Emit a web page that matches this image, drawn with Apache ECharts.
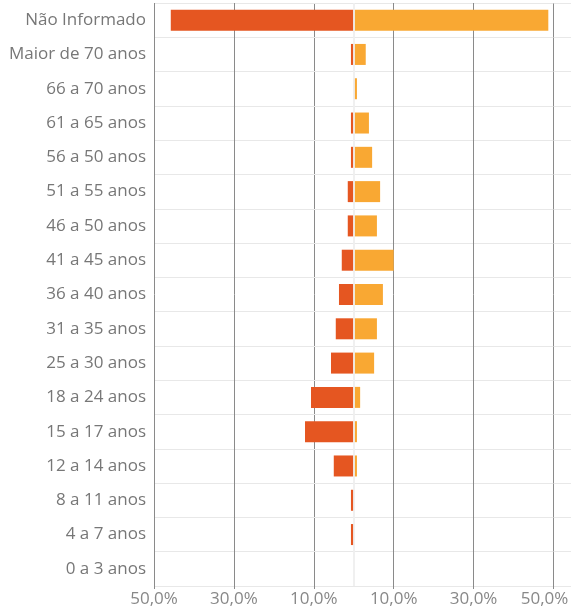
<!DOCTYPE html>
<html>
<head>
<meta charset="utf-8">
<script src="https://cdn.jsdelivr.net/npm/echarts@6/dist/echarts.min.js"></script>
<style>
    html, body { margin: 0; padding: 0; background: #fff; }
    #chart { width: 571px; height: 612px; }
</style>
</head>
<body>
<div id="chart"></div>
<script>
// faixas etárias, de cima para baixo
const categories = [
    "Não Informado", "Maior de 70 anos", "66 a 70 anos", "61 a 65 anos",
    "56 a 50 anos", "51 a 55 anos", "46 a 50 anos", "41 a 45 anos",
    "36 a 40 anos", "31 a 35 anos", "25 a 30 anos", "18 a 24 anos",
    "15 a 17 anos", "12 a 14 anos", "8 a 11 anos", "4 a 7 anos", "0 a 3 anos"
]
// lado esquerdo (negativo) e lado direito, em %
const leftValues = [-45.8, -0.7, 0, -0.7, -0.7, -1.5, -1.5, -3.0, -3.7, -4.5, -5.7, -10.7, -12.2, -5.0, -0.7, -0.7, 0]
const rightValues = [48.7, 3.0, 0.8, 3.8, 4.6, 6.6, 5.8, 10.0, 7.3, 5.8, 5.1, 1.6, 0.8, 0.8, 0, 0, 0]
const xTicks = { min: -50, max: 50, interval: 20 }

const font = "'Open Sans', sans-serif"
const chart = echarts.init(document.getElementById("chart"), null, { renderer: "canvas" })

chart.setOption({
    animation: false,
    // sem outerBounds, senão o rótulo 50,0% da direita encolhe a grade
    grid: { left: 154, right: 17.5, top: 3, bottom: 26, containLabel: false, outerBoundsMode: "none" },
    xAxis: {
        type: "value",
        min: xTicks.min,
        max: xTicks.max,
        interval: xTicks.interval,
        axisLine: { show: false },
        axisTick: { show: true, length: 3, lineStyle: { color: "#8a8a8a" } },
        splitLine: { show: true, lineStyle: { color: "#8a8a8a", width: 1 } },
        axisLabel: {
            color: "#888",
            fontFamily: font,
            fontSize: 17,
            margin: 5,
            formatter: (v) => {
                const txt = Math.abs(v).toFixed(1).replace(".", ",") + "%"
                // o último rótulo fica puxado para dentro da área
                return v === xTicks.max ? `{last|${txt}}` : txt
            },
            rich: {
                last: { color: "#888", fontFamily: font, fontSize: 17, padding: [0, 18, 0, 0] },
            },
        },
    },
    yAxis: [
        {
            type: "category",
            data: categories,
            inverse: true,
            axisLine: { show: false },
            axisTick: { show: true, length: 106, lineStyle: { color: "#e8e8e8" } },
            splitLine: { show: true, lineStyle: { color: "#e8e8e8" } },
            axisLabel: { color: "#777", fontFamily: font, fontSize: 17, margin: 8 },
        },
        {
            type: "category",
            data: categories,
            inverse: true,
            position: "right",
            axisLine: { show: false },
            axisTick: { show: true, length: 18, lineStyle: { color: "#e8e8e8" } },
            splitLine: { show: false },
            axisLabel: { show: false },
        },
    ],
    series: [
        {
            name: "esquerda",
            type: "bar",
            stack: "total",
            barWidth: 21,
            itemStyle: { color: "#E55621" },
            data: leftValues,
            markLine: {
                silent: true,
                symbol: "none",
                label: { show: false },
                lineStyle: { color: "rgba(238,238,238,0.9)", type: "solid", width: 2 },
                data: [{ xAxis: 0 }],
                z: 10,
            },
        },
        {
            name: "direita",
            type: "bar",
            stack: "total",
            barWidth: 21,
            itemStyle: { color: "#F9A833" },
            data: rightValues,
        },
    ],
})
</script>
</body>
</html>
